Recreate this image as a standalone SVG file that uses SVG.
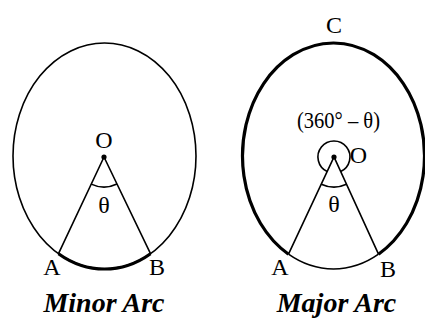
<svg xmlns="http://www.w3.org/2000/svg" width="425" height="320" viewBox="0 0 425 320">
<style>
.thin{fill:none;stroke:#000;stroke-width:1.6}
.thick{fill:none;stroke:#000;stroke-width:3.2}
.lbl{font-family:"Liberation Serif","Times New Roman",serif;font-size:24px;fill:#000;text-anchor:middle}
.title{font-family:"Liberation Serif","Times New Roman",serif;font-size:28px;font-style:italic;font-weight:bold;fill:#000;text-anchor:middle}
</style>
<rect width="425" height="320" fill="#fff"/>
<g id="minor">
<ellipse class="thin" cx="104.5" cy="156" rx="91.5" ry="113"/>
<path class="thick" d="M58.5 253.7 A91.5 113 0 0 0 150.5 253.7"/>
<path class="thin" d="M58.5 253.7 L104 157 L150.5 253.7"/>
<path class="thin" d="M91.2 184.1 A30 30 0 0 0 117 184"/>
<circle cx="104" cy="157" r="2.6" fill="#000"/>
<text class="lbl" x="104" y="148">O</text>
<text class="lbl" x="104" y="213">θ</text>
<text class="lbl" x="52" y="275">A</text>
<text class="lbl" x="157" y="275">B</text>
<text class="title" x="104" y="312">Minor Arc</text>
</g>
<g id="major">
<path class="thick" d="M378.5 254.2 A91 113 0 1 0 288.5 254.2"/>
<path class="thin" d="M288.5 254.2 A91 113 0 0 0 378.5 254.2"/>
<path class="thin" d="M288.5 254.2 L334 157 L378.5 254.2"/>
<path class="thin" d="M321.3 184.2 A30 30 0 0 0 346.5 184.3"/>
<path class="thin" d="M327.2 171.5 A16 16 0 1 1 340.7 171.5"/>
<circle cx="334" cy="157" r="2.6" fill="#000"/>
<text class="lbl" x="334" y="33">C</text>
<text class="lbl" x="338.5" y="128" textLength="83" lengthAdjust="spacingAndGlyphs">(360° – θ)</text>
<text class="lbl" x="358.5" y="163">O</text>
<text class="lbl" x="334" y="212">θ</text>
<text class="lbl" x="280" y="275">A</text>
<text class="lbl" x="388" y="277">B</text>
<text class="title" x="336.5" y="312">Major Arc</text>
</g>
</svg>
